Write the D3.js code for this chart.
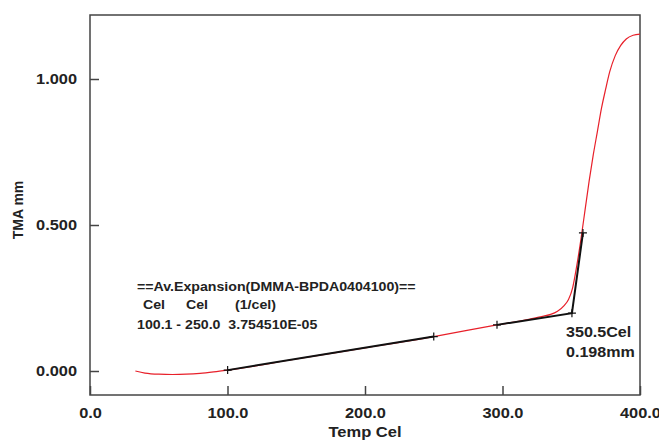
<!DOCTYPE html>
<html><head><meta charset="utf-8">
<script src="https://cdn.jsdelivr.net/npm/d3@7/dist/d3.min.js"></script>
<style>body{margin:0;background:#fff}svg{display:block}text{font-family:"Liberation Sans",Arial,sans-serif;font-weight:bold;fill:#222;white-space:pre}</style>
</head><body><svg id="c" width="659" height="440"></svg>
<script>
const tempC = [33,40,50,60,70,80,90,100,150,200,250,296,320,330,335,340,345,348,351,354,357,360,363,366,369,372,375,378,382,386,390,395,400];
const tmaMM = [0.000,-0.007,-0.011,-0.012,-0.011,-0.008,-0.003,0.003,0.041,0.079,0.118,0.158,0.178,0.188,0.194,0.205,0.225,0.245,0.285,0.36,0.45,0.55,0.65,0.74,0.82,0.90,0.965,1.025,1.08,1.115,1.137,1.150,1.154];
const fitTemp = [100.1,250.0];
const fitVal = [0.003,0.118];
const tanTemp = [296,350.5,358.5];
const tanVal = [0.158,0.198,0.473];
const markTemp = [100.1,250.0,296,350.5,358.5];
const markVal = [0.003,0.118,0.158,0.198,0.473];
const xTicks = [0,100,200,300,400];
const yTicks = [0,0.5,1.0];
const noteLines = ["==Av.Expansion(DMMA-BPDA0404100)==","100.1 - 250.0  3.754510E-05"];
const noteHeader = ["Cel","Cel","(1/cel)"];
const onsetLines = ["350.5Cel","0.198mm"];

const svg = d3.select("#c");
const L=90,R=640,T=15,B=395;
const x = d3.scaleLinear().domain([0,400]).range([L,R]);
const y = d3.scaleLinear().domain([0,1]).range([371,79]);

function stext(px,py,str,size,sx,anchor){
  return svg.append("text").attr("transform",`translate(${px},${py}) scale(${sx},1)`)
    .attr("font-size",size).attr("text-anchor",anchor||"start").text(str);
}

// frame
svg.append("rect").attr("x",L).attr("y",T).attr("width",R-L).attr("height",B-T)
  .attr("fill","none").attr("stroke","#444").attr("stroke-width",1.5);

const TSX=1.17;
// axes ticks (inward)
const xa = d3.axisBottom(x).tickValues(xTicks).tickSize(-9).tickFormat(d=>d3.format(".1f")(d)).tickPadding(13);
const gx = svg.append("g").attr("transform",`translate(0,${B})`).call(xa);
gx.select(".domain").remove();
gx.selectAll("line").attr("stroke","#444").attr("stroke-width",1.5);
gx.selectAll("text").attr("font-size",14).attr("fill","#222").attr("transform",`scale(${TSX},1)`)
  .style("font-family","Liberation Sans, Arial").style("font-weight","bold");

const ya = d3.axisLeft(y).tickValues(yTicks).tickSize(-9).tickFormat(d=>d3.format(".3f")(d)).tickPadding(13);
const gy = svg.append("g").attr("transform",`translate(${L},0)`).call(ya);
gy.select(".domain").remove();
gy.selectAll("line").attr("stroke","#444").attr("stroke-width",1.5);
gy.selectAll("text").attr("font-size",14).attr("fill","#222").attr("x",-13/TSX).attr("transform",`scale(${TSX},1)`)
  .style("font-family","Liberation Sans, Arial").style("font-weight","bold");

// axis titles
stext(365,437,"Temp Cel",14,1.18,"middle");
svg.append("text").attr("transform","translate(23,210) rotate(-90)").attr("text-anchor","middle").attr("font-size",14).text("TMA mm");

// red curve
const line = d3.line().x(d=>x(d[0])).y(d=>y(d[1])).curve(d3.curveMonotoneX);
svg.append("path").datum(tempC.map((t,i)=>[t,tmaMM[i]])).attr("d",line)
  .attr("fill","none").attr("stroke","#e8202a").attr("stroke-width",1.2);

// black fit lines
const lin = d3.line().x(d=>x(d[0])).y(d=>y(d[1]));
svg.append("path").datum(fitTemp.map((t,i)=>[t,fitVal[i]])).attr("d",lin)
  .attr("fill","none").attr("stroke","#111").attr("stroke-width",2);
svg.append("path").datum(tanTemp.map((t,i)=>[t,tanVal[i]])).attr("d",lin)
  .attr("fill","none").attr("stroke","#111").attr("stroke-width",2);

// markers
markTemp.forEach((t,i)=>{
  const cx=x(t), cy=y(markVal[i]);
  svg.append("path").attr("d",`M${cx-4},${cy}H${cx+4}M${cx},${cy-4}V${cy+4}`)
    .attr("stroke","#111").attr("stroke-width",1.2);
});

// annotation
stext(137,291,noteLines[0],13.5,1.05);
[143,186,235].forEach((px,i)=>stext(px,309,noteHeader[i],13.5,1.05));
stext(137,329,noteLines[1],13.5,1.05);
stext(566,337,onsetLines[0],14.5,1.11);
stext(566,357,onsetLines[1],14.5,1.11);
</script></body></html>
